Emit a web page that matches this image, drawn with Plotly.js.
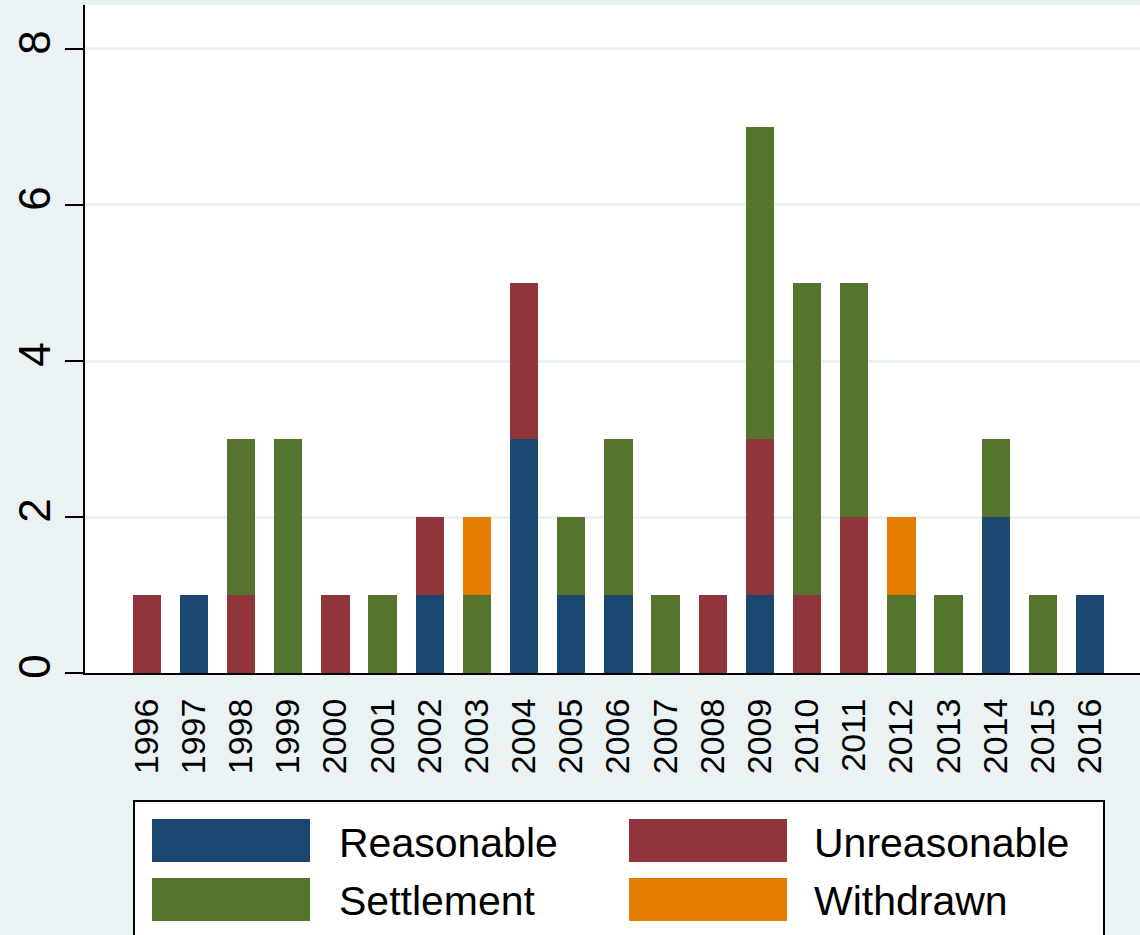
<!DOCTYPE html>
<html>
<head>
<meta charset="utf-8">
<script src="https://cdn.plot.ly/plotly-3.0.1.min.js"></script>
<style>html,body{margin:0;padding:0;background:#eaf2f3;}#chart{width:1140px;height:935px;}</style>
</head>
<body>
<div id="chart"></div>
<script>
var years = [1996,1997,1998,1999,2000,2001,2002,2003,2004,2005,2006,2007,2008,2009,2010,2011,2012,2013,2014,2015,2016];
var reasonable   = [0,1,0,0,0,0,1,0,3,1,1,0,0,1,0,0,0,0,2,0,1];
var unreasonable = [1,0,1,0,1,0,1,0,2,0,0,0,1,2,1,2,0,0,0,0,0];
var settlement   = [0,0,2,3,0,1,0,1,0,1,2,1,0,4,4,3,1,1,1,1,0];
var withdrawn    = [0,0,0,0,0,0,0,1,0,0,0,0,0,0,0,0,1,0,0,0,0];
var yTicks = [0,2,4,6,8];

var seriesNames  = ['Reasonable','Unreasonable','Settlement','Withdrawn'];
var seriesValues = [reasonable, unreasonable, settlement, withdrawn];
var seriesColors = ['#1a476f','#90353b','#55752f','#e37e00'];

var FONT = 'Liberation Sans, Arial, Helvetica, sans-serif';

var traces = seriesNames.map(function(n,i){
  return {type:'bar', name:n, x:years, y:seriesValues[i], width:0.6,
    marker:{color:seriesColors[i], line:{width:0}}, showlegend:false, hoverinfo:'x+y+name'};
});

// pixel helpers for the custom legend (plot area: left 85, right 1140, top 5, bottom 673)
var L=85, R=1140, T=5, B=673;
function px(x){ return (x-L)/(R-L); }
function py(y){ return (B-y)/(B-T); }

var shapes = [];
var annotations = [];
shapes.push({type:'rect', xref:'paper', yref:'paper', x0:px(134), x1:px(1104), y0:py(801), y1:py(980),
  fillcolor:'#ffffff', line:{color:'#000000', width:2}, layer:'above'});
var legendPos = [
  {sx:152, tx:337, y0:819, y1:862},
  {sx:629, tx:812, y0:819, y1:862},
  {sx:152, tx:337, y0:878, y1:921},
  {sx:629, tx:812, y0:878, y1:921}
];
seriesNames.forEach(function(n,i){
  var p = legendPos[i];
  shapes.push({type:'rect', xref:'paper', yref:'paper', x0:px(p.sx), x1:px(p.sx+158), y0:py(p.y1), y1:py(p.y0),
    fillcolor:seriesColors[i], line:{width:0}, layer:'above'});
  annotations.push({xref:'paper', yref:'paper', x:px(p.tx), y:py((p.y0+p.y1)/2+2), xanchor:'left', yanchor:'middle',
    text:n, showarrow:false, font:{family:FONT, size:41, color:'#000000'}});
});

var layout = {
  width:1140, height:935,
  margin:{l:L, r:0, t:T, b:935-B, pad:0},
  paper_bgcolor:'#eaf2f3', plot_bgcolor:'#ffffff',
  barmode:'stack', bargap:0,
  font:{family:FONT, color:'#000000'},
  xaxis:{range:[1994.69, 2017.06], tickmode:'array', tickvals:years, ticktext:years.map(String),
    tickangle:-90, ticks:'', showgrid:false, zeroline:false, showline:true, linecolor:'#000000', linewidth:2,
    tickfont:{family:FONT, size:34, color:'#000000'}, ticklabelstandoff:10, fixedrange:true},
  yaxis:{range:[0, 8.564], tickmode:'array', tickvals:yTicks, ticktext:yTicks.map(String),
    tickangle:-90, ticks:'outside', ticklen:18, tickwidth:2, tickcolor:'#000000',
    showgrid:true, gridcolor:'#eaf2f3', gridwidth:3, zeroline:false, showline:true, linecolor:'#000000', linewidth:2,
    tickfont:{family:FONT, size:44, color:'#000000'}, ticklabelstandoff:-3, fixedrange:true},
  shapes:shapes, annotations:annotations, showlegend:false
};

Plotly.newPlot('chart', traces, layout, {displayModeBar:false, staticPlot:true});
</script>
</body>
</html>
